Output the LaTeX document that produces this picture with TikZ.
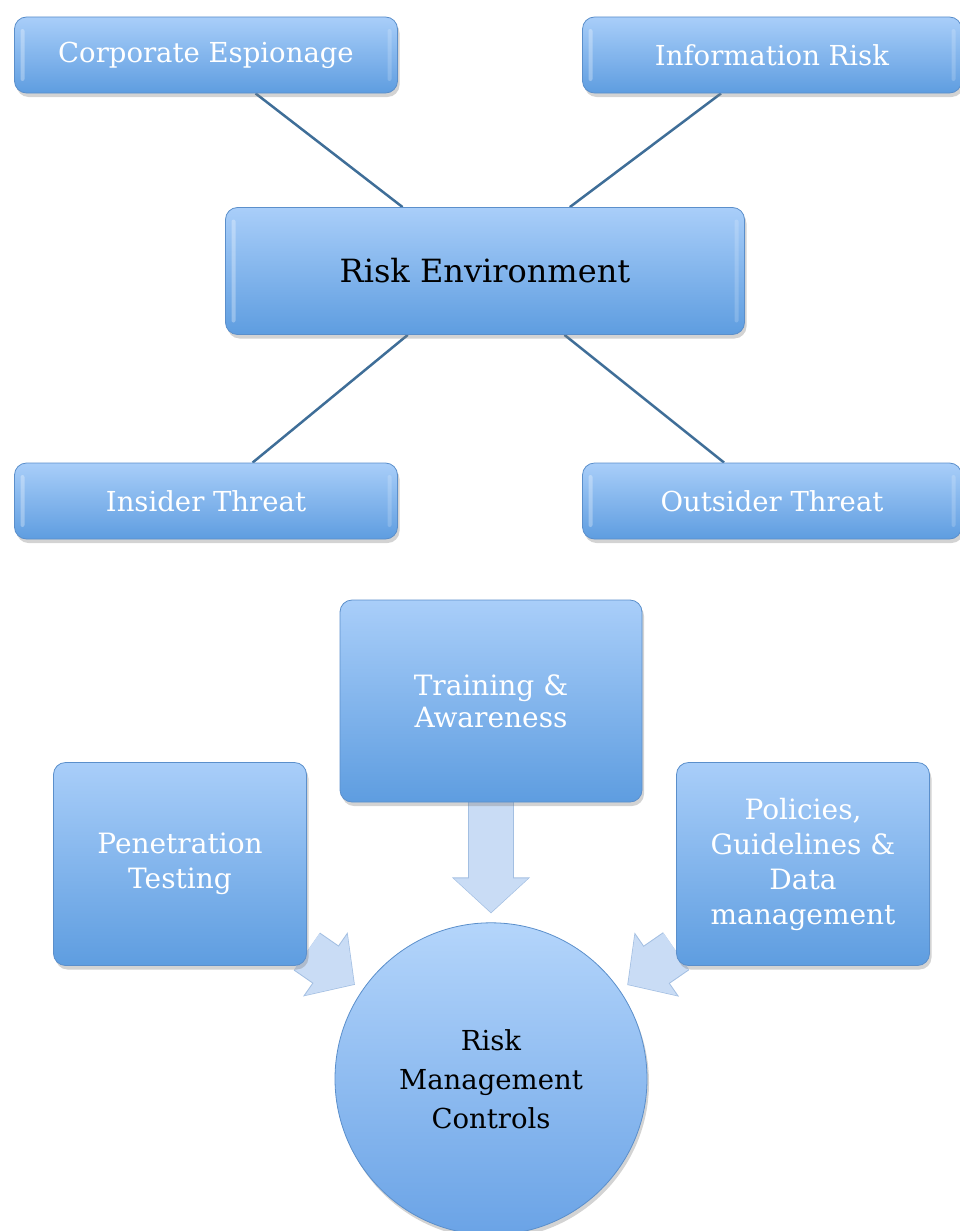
\documentclass[tikz,border=0pt]{standalone}
\usepackage{fontspec}
\setmainfont{DejaVu Serif}
\usetikzlibrary{positioning, arrows.meta, shadows, backgrounds}

\definecolor{boxtop}{HTML}{A9CEF9}
\definecolor{boxbot}{HTML}{5E9DE0}
\definecolor{boxedge}{HTML}{5B8FCB}
\definecolor{linkcol}{HTML}{3F6E98}
\definecolor{arrowfill}{HTML}{C9DCF5}
\definecolor{arrowedge}{HTML}{A3BFE2}
\definecolor{balltop}{HTML}{B4D5FB}
\definecolor{ballbot}{HTML}{6AA3E6}

\tikzset{
  box/.style={rectangle, rounded corners=12pt, draw=boxedge, line width=0.8pt,
    top color=boxtop, bottom color=boxbot, align=center, inner sep=0pt,
    drop shadow={opacity=0.35, shadow xshift=2pt, shadow yshift=-4pt}},
  bevel/.style={path picture={
    \fill[white, opacity=0.3, rounded corners=2pt] ([xshift=6pt, yshift=-12pt]path picture bounding box.north west)
      rectangle ([xshift=10pt, yshift=12pt]path picture bounding box.south west);
    \fill[white, opacity=0.18, rounded corners=2pt] ([xshift=-6pt, yshift=-12pt]path picture bounding box.north east)
      rectangle ([xshift=-10pt, yshift=12pt]path picture bounding box.south east);}},
  wide/.style={box, bevel, minimum width=383pt, minimum height=76pt, text=white,
    font=\fontsize{27.5}{32}\selectfont},
  tall/.style={box, minimum width=253pt, minimum height=203pt, text=white,
    font=\fontsize{28}{35}\selectfont},
  ball/.style={circle, minimum size=312pt, draw=boxedge, line width=0.8pt,
    top color=balltop, bottom color=ballbot, align=center, inner sep=0pt,
    drop shadow={opacity=0.35, shadow xshift=2pt, shadow yshift=-4pt},
    font=\fontsize{27.5}{39}\selectfont},
  link/.style={draw=linkcol, line width=2.5pt},
  fat/.style={draw=arrowfill, line width=44pt, shorten >=10pt,
    -{Triangle[length=34pt,width=72pt]},
    preaction={draw=arrowedge, line width=46pt, shorten >=9pt,
      -{Triangle[length=36pt,width=76pt]}}}
}

\begin{document}
\begin{tikzpicture}[x=1pt, y=-1pt]
  \useasboundingbox (0,0) rectangle (959,1231);

  \node[box, bevel, minimum width=519pt, minimum height=127pt, font=\fontsize{32}{36}\selectfont] (0) at (485,271) {Risk Environment};
  \node[wide] (1) at (206,55) {Corporate Espionage};
  \node[wide, minimum width=379pt] (2) at (772,55) {Information Risk};
  \node[wide] (3) at (206,501) {Insider Threat};
  \node[wide, minimum width=379pt] (4) at (772,501) {Outsider Threat};

  \node[tall, minimum width=302pt, minimum height=202pt, font=\fontsize{28}{32}\selectfont] (11) at (491,701) {Training \&\\Awareness};
  \node[tall] (12) at (180,864) {Penetration\\Testing};
  \node[tall] (13) at (803,864) {Policies,\\Guidelines \&\\Data\\management};
  \node[ball] (10) [below=120pt of 11] {Risk\\Management\\Controls};

  \begin{scope}[on background layer]
    \draw[link] (1) -- (0);
    \draw[link] (2) -- (0);
    \draw[link] (3) -- (0);
    \draw[link] (4) -- (0);

    \draw[fat] (11) -- (10);
    \draw[fat] (12) -- (10);
    \draw[fat] (13) -- (10);
  \end{scope}
\end{tikzpicture}
\end{document}
